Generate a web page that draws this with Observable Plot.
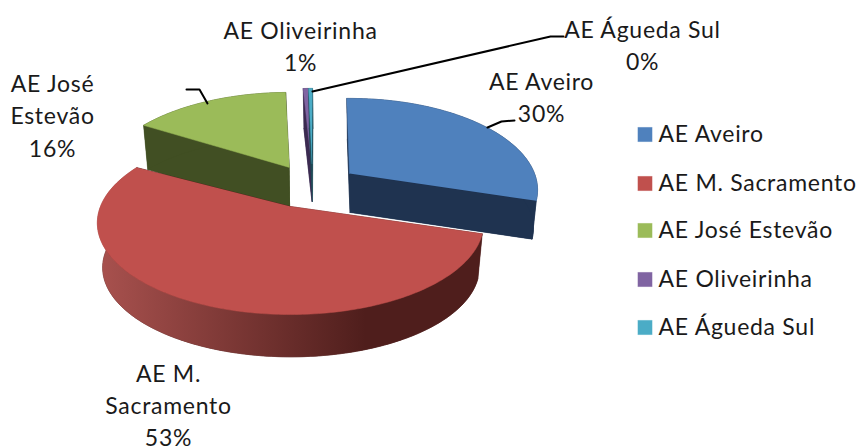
<!DOCTYPE html>
<html><head><meta charset="utf-8">
<style>html,body{margin:0;padding:0;background:#fff}svg{display:block}</style>
<script src="https://cdn.jsdelivr.net/npm/d3@7"></script>
<script src="https://cdn.jsdelivr.net/npm/@observablehq/plot@0.6"></script>
</head><body><div id="c"></div>
<script>
const categories = ["AE Aveiro","AE M. Sacramento","AE José Estevão","AE Oliveirinha","AE Águeda Sul"];
const shares = [30, 53.2, 15.9, 0.5, 0.4];
const wrapped = ["AE Aveiro","AE M.\nSacramento","AE José\nEstevão","AE Oliveirinha","AE Águeda Sul"];
const colors = ["#4f81bd","#c0504d","#9bbb59","#8064a2","#4bacc6"];
const sideColors = ["#1f3350","#4f1e1c","#414f23","#3b2a50","#1f4a56"];

// layout of the exploded 3D pie
const K = 0.18, B = 88.6, SHRINK = 0.975, START = -1;
const geom = [
  {ax:349, ay:173, dep:39, a:185, rot:0},
  {ax:290, ay:206, dep:45, a:190, rot:0},
  {ax:289, ay:167, dep:43, a:187, rot:2.86},
  {ax:311, ay:163, dep:38, a:185, rot:1.2},
  {ax:311.5, ay:163, dep:38, a:185, rot:1.2}
];
const labelPos = [[541,95.5],[168,403],[52,113.5],[300,44.5],[642,43.5]];
const legendY = [134,183,230,279,327];
const leaders = [
  [[487,127],[501,121],[514,120]],
  [[207,103],[199,89],[186,89]],
  [[312,91],[550,36],[563,36]]
];
const paintOrder = [2,3,4,0,1];

const rad = d => d*Math.PI/180;
const proj = (g,deg,s,bottom) => {
  const u = Math.sin(rad(deg)), v = -Math.cos(rad(deg)), d = 1-K*v;
  return [g.ax + g.a*u/d*s + (bottom?0.5:0), g.ay + (bottom?g.dep:0) + B*v/d*s];
};
const spans = []; let acc = START;
shares.forEach(v => { spans.push([acc, acc + v*3.6]); acc += v*3.6; });

const polys = []; let pid = 0;
const addPoly = (pts, fill) => { const id = pid++; pts.forEach(p => polys.push({id, x:p[0], y:p[1], fill})); };

for (const i of paintOrder) {
  const g = geom[i], a0 = spans[i][0]+g.rot, a1 = spans[i][1]+g.rot;
  const angs = d3.range(a0, a1, 1).concat([a1]);
  const side = sideColors[i];
  addPoly([proj(g,0,0,true), ...angs.map(t=>proj(g,t,SHRINK,true))], side);
  for (const t of [a0,a1]) {
    addPoly([proj(g,0,0,false), proj(g,t,1,false), proj(g,t,SHRINK,true), proj(g,0,0,true)], side);
  }
  addPoly([...angs.map(t=>proj(g,t,1,false)), ...angs.slice().reverse().map(t=>proj(g,t,SHRINK,true))], i===1 ? "url(#wall)" : side);
  addPoly([proj(g,0,0,false), ...angs.map(t=>proj(g,t,1,false))], colors[i]);
}

const leaderRows = leaders.flatMap((l,k)=>l.map(p=>({k,x:p[0],y:p[1]})));
const labelRows = categories.map((c,i)=>({x:labelPos[i][0],y:labelPos[i][1],t:`${wrapped[i]}\n${Math.round(shares[i])}%`}));
const legendRows = categories.map((c,i)=>({c,y:legendY[i],fill:colors[i]}));
const FONT = "Lato, Carlito, sans-serif";

const wallGradient = () => {
  const defs = d3.create("svg:defs");
  const g = defs.append("linearGradient").attr("id","wall").attr("gradientUnits","userSpaceOnUse")
    .attr("x1",100).attr("x2",365).attr("y1",0).attr("y2",0);
  g.append("stop").attr("offset",0).attr("stop-color","#a8514e");
  g.append("stop").attr("offset",1).attr("stop-color","#4f1e1c");
  return defs.node();
};

const chart = Plot.plot({
  width:860, height:447, margin:0,
  x:{domain:[0,860],range:[0,860],axis:null},
  y:{domain:[0,447],range:[0,447],axis:null},
  color:{type:"identity"},
  style:{background:"#fff",fontFamily:FONT,letterSpacing:"0.72px"},
  marks:[
    wallGradient,
    Plot.line(polys,{x:"x",y:"y",z:"id",fill:"fill",stroke:"fill",strokeWidth:0.5,curve:"linear"}),
    Plot.line(leaderRows,{x:"x",y:"y",z:"k",stroke:"#000",strokeWidth:2,curve:"linear"}),
    Plot.text(labelRows,{x:"x",y:"y",text:"t",fontSize:23,lineHeight:1.4,fill:"#1a1a1a",textAnchor:"middle"}),
    Plot.dot(legendRows,{x:()=>644.5,y:"y",symbol:"square",r:8.5,fill:"fill",stroke:"#fff",strokeWidth:0.5}),
    Plot.text(legendRows,{x:()=>658,y:"y",text:"c",fontSize:23,fill:"#1a1a1a",textAnchor:"start"})
  ]
});
document.getElementById("c").appendChild(chart);
</script></body></html>
